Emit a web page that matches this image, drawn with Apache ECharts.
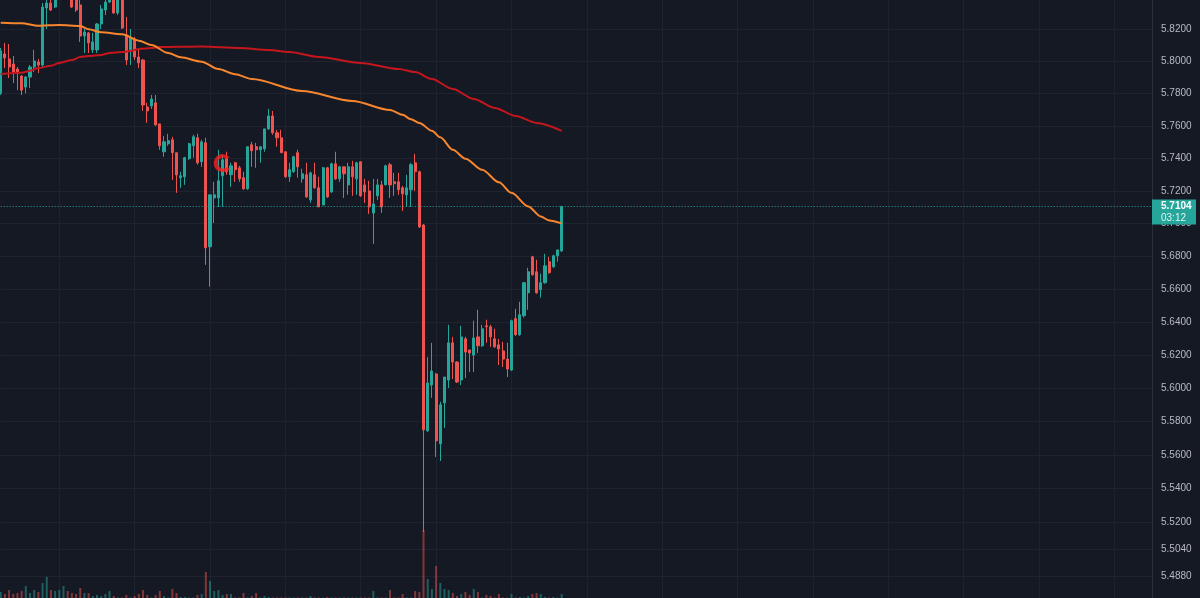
<!DOCTYPE html>
<html lang="en">
<head>
<meta charset="utf-8">
<title>Price chart</title>
<script src="https://cdn.jsdelivr.net/npm/echarts@6/dist/echarts.min.js"></script>
<style>
  html, body { margin: 0; padding: 0; background: #151924; }
  #chart { width: 1200px; height: 598px; }
</style>
</head>
<body>
<div id="chart"></div>
<script>
// candles: [open, close, low, high]
const candles = [
  [5.7802,5.8065,5.7791,5.8083],[5.8046,5.8021,5.7958,5.8115],[5.8015,5.7965,5.7896,5.8108],[5.7983,5.7933,5.7865,5.8033],
  [5.7952,5.7927,5.7821,5.7965],[5.7908,5.7821,5.7791,5.7915],[5.7840,5.7902,5.7802,5.7908],[5.7902,5.7965,5.7834,5.7977],
  [5.7965,5.8002,5.7933,5.8071],[5.7996,5.7977,5.7927,5.8015],[5.7977,5.8339,5.7965,5.8364],[5.8333,5.8364,5.8202,5.8385],
  [5.8364,5.8320,5.8314,5.8402],[5.8339,5.8395,5.8333,5.8414],[5.8395,5.8440,5.8390,5.8458],[5.8440,5.8465,5.8425,5.8476],
  [5.8465,5.8445,5.8420,5.8480],[5.8445,5.8339,5.8333,5.8458],[5.8389,5.8320,5.8308,5.8395],[5.8352,5.8158,5.8121,5.8383],
  [5.8158,5.8183,5.8052,5.8202],[5.8177,5.8115,5.8052,5.8183],[5.8071,5.8121,5.8052,5.8177],[5.8071,5.8233,5.8052,5.8239],
  [5.8233,5.8327,5.8202,5.8352],[5.8320,5.8370,5.8289,5.8383],[5.8370,5.8408,5.8364,5.8420],[5.8395,5.8302,5.8296,5.8408],
  [5.8302,5.8383,5.8289,5.8402],[5.8389,5.8208,5.8202,5.8402],[5.8164,5.8008,5.7977,5.8277],[5.8071,5.8146,5.7977,5.8202],
  [5.8139,5.8027,5.8008,5.8152],[5.8027,5.7990,5.7958,5.8083],[5.8008,5.7729,5.7692,5.8015],[5.7717,5.7692,5.7618,5.7742],
  [5.7723,5.7766,5.7705,5.7791],[5.7742,5.7606,5.7600,5.7791],[5.7612,5.7477,5.7452,5.7612],[5.7440,5.7501,5.7409,5.7538],
  [5.7489,5.7508,5.7477,5.7551],[5.7514,5.7434,5.7267,5.7532],[5.7434,5.7298,5.7187,5.7434],[5.7280,5.7292,5.7218,5.7317],
  [5.7286,5.7403,5.7236,5.7409],[5.7397,5.7489,5.7390,5.7495],[5.7477,5.7532,5.7403,5.7545],[5.7526,5.7372,5.7360,5.7551],
  [5.7378,5.7501,5.7347,5.7514],[5.7495,5.6851,5.6747,5.7526],[5.6857,5.7175,5.6614,5.7175],[5.7156,5.7175,5.7002,5.7255],
  [5.7156,5.7261,5.7101,5.7452],[5.7292,5.7390,5.7101,5.7421],[5.7397,5.7317,5.7298,5.7440],[5.7298,5.7353,5.7224,5.7372],
  [5.7372,5.7329,5.7255,5.7378],[5.7341,5.7273,5.7255,5.7353],[5.7280,5.7212,5.7206,5.7317],[5.7212,5.7471,5.7206,5.7471],
  [5.7483,5.7446,5.7347,5.7501],[5.7471,5.7452,5.7341,5.7495],[5.7452,5.7471,5.7372,5.7471],[5.7458,5.7581,5.7440,5.7581],
  [5.7581,5.7661,5.7575,5.7705],[5.7661,5.7557,5.7545,5.7692],[5.7557,5.7526,5.7471,5.7575],[5.7526,5.7434,5.7434,5.7575],
  [5.7440,5.7286,5.7280,5.7440],[5.7286,5.7329,5.7255,5.7372],[5.7317,5.7409,5.7310,5.7415],[5.7434,5.7347,5.7280,5.7452],
  [5.7273,5.7304,5.7249,5.7335],[5.7298,5.7162,5.7156,5.7372],[5.7144,5.7310,5.7126,5.7317],[5.7298,5.7218,5.7212,5.7372],
  [5.7218,5.7101,5.7101,5.7286],[5.7113,5.7341,5.7113,5.7347],[5.7341,5.7162,5.7156,5.7347],[5.7193,5.7366,5.7187,5.7372],
  [5.7366,5.7273,5.7267,5.7440],[5.7273,5.7347,5.7255,5.7353],[5.7347,5.7304,5.7156,5.7347],[5.7236,5.7347,5.7175,5.7372],
  [5.7347,5.7286,5.7169,5.7384],[5.7273,5.7372,5.7175,5.7378],[5.7378,5.7169,5.7162,5.7378],[5.7236,5.7193,5.7126,5.7273],
  [5.7199,5.7101,5.7058,5.7261],[5.7064,5.7119,5.6875,5.7273],[5.7169,5.7236,5.7144,5.7273],[5.7236,5.7101,5.7064,5.7261],
  [5.7236,5.7353,5.7236,5.7360],[5.7360,5.7236,5.7156,5.7372],[5.7255,5.7243,5.7169,5.7310],[5.7255,5.7206,5.7175,5.7310],
  [5.7218,5.7181,5.7076,5.7230],[5.7175,5.7218,5.7101,5.7298],[5.7206,5.7360,5.7101,5.7372],[5.7372,5.7317,5.7199,5.7427],
  [5.7317,5.6978,5.6972,5.7323],[5.6990,5.5751,5.5143,5.6996],[5.5745,5.6032,5.5739,5.6188],[5.6020,5.6104,5.5943,5.6274],
  [5.6086,5.5685,5.5589,5.6092],[5.5667,5.5901,5.5565,5.5919],[5.5913,5.6068,5.5763,5.6068],[5.6050,5.6274,5.6002,5.6383],
  [5.6274,5.6158,5.6056,5.6310],[5.6158,5.6038,5.6032,5.6164],[5.6050,5.6310,5.6020,5.6377],[5.6298,5.6219,5.6062,5.6310],
  [5.6231,5.6213,5.6098,5.6231],[5.6200,5.6304,5.6098,5.6408],[5.6310,5.6256,5.6213,5.6474],[5.6256,5.6359,5.6250,5.6383],
  [5.6377,5.6371,5.6274,5.6414],[5.6371,5.6310,5.6250,5.6383],[5.6298,5.6250,5.6244,5.6359],[5.6262,5.6237,5.6140,5.6298],
  [5.6225,5.6176,5.6128,5.6280],[5.6176,5.6116,5.6068,5.6274],[5.6110,5.6408,5.6104,5.6414],[5.6420,5.6323,5.6316,5.6480],
  [5.6323,5.6444,5.6316,5.6523],[5.6438,5.6638,5.6426,5.6644],[5.6577,5.6705,5.6474,5.6729],[5.6796,5.6687,5.6681,5.6802],
  [5.6705,5.6577,5.6571,5.6778],[5.6596,5.6638,5.6547,5.6693],[5.6638,5.6741,5.6632,5.6814],[5.6766,5.6699,5.6693,5.6796],
  [5.6735,5.6802,5.6729,5.6808],[5.6802,5.6838,5.6766,5.6838],[5.6832,5.7104,5.6826,5.7104]
];

const volumes = [
  6,4,8,4,5,7,12,5,8,6,
  15,21,8,7,8,12,7,5,4,10,
  5,5,2,3,2,4,7,2,0.5,0.5,
  3,0.5,2,4,8,3,0.5,3,7,2,
  0.5,9,5,1,1,0.5,0.5,3,4,26,
  17,7,8,3,4,4,0.5,0.5,5,0.5,
  2,5,0.5,2,1,0.5,0.5,0.5,0.5,0.5,
  0.5,0.5,0.5,0.5,2,0.5,0.5,0.5,1,0.5,
  0.5,0.5,0.5,0.5,0.5,0.5,0.5,0.5,0.5,7,
  0.5,0.5,0.5,8,0.5,0.5,4,0.5,0.5,7,
  6,68,19,9,32,15,9,8,5,2,
  4,6,3,9,6,0.5,3,2,0.5,4,
  0.5,0.5,4,0.5,1,0.5,2,4,5,4,
  1,0.5,1,0.5,4
];

// moving averages, [candle index, price]
const maFast = [[0,5.8241],[5,5.8237],[9,5.8222],[14,5.8227],[19,5.8221],[21,5.8200],[24,5.8181],[29,5.8169],
  [33,5.8129],[36,5.8102],[40,5.8052],[43,5.8025],[48,5.7998],[52,5.7952],[56,5.7920],[60,5.7890],[72,5.7815],
  [84,5.7754],[93,5.7698],[96,5.7668],[98,5.7640],[100,5.7618],[103,5.7569],[105,5.7529],[108,5.7452],[111,5.7397],
  [115,5.7329],[119,5.7252],[122,5.7187],[126,5.7104],[129,5.7042],[131,5.7018],[134,5.7000]];
const maSlow = [[0,5.7921],[5,5.7929],[7,5.7942],[9,5.7958],[12,5.7973],[14,5.7990],[17,5.8008],[19,5.8027],
  [21,5.8033],[24,5.8040],[26,5.8052],[29,5.8058],[31,5.8065],[33,5.8077],[36,5.8083],[38,5.8090],[48,5.8093],
  [57,5.8083],[64,5.8071],[69,5.8058],[76,5.8027],[86,5.7990],[95,5.7952],[99,5.7933],[103,5.7890],[108,5.7828],
  [113,5.7766],[118,5.7711],[123,5.7661],[128,5.7618],[134,5.7569]];

const yTicks = [5.84,5.82,5.80,5.78,5.76,5.74,5.72,5.70,5.68,5.66,5.64,5.62,5.60,5.58,5.56,5.54,5.52,5.504,5.488];
const priceMin = 5.4754, priceMax = 5.8383;
const lastPrice = 5.7104;
const countdown = '03:12';
const marker = [53, 5.7370];
const slots = 276;

const up = '#26a69a', down = '#ef5350';
const upVol = 'rgba(38,166,154,0.5)', downVol = 'rgba(239,83,80,0.5)';
const gridColor = '#1f2330';
const ln = Math.log;
// open ring, gap on the right
const ringPath = 'path://M17.66 3.57A10 10 0 1 0 17.66 16.43L14.6 14.5A6 6 0 1 1 14.6 5.5Z';

let chart = echarts.init(document.getElementById('chart'));

let cats = [];
for (let i = 0; i < slots; i++) cats.push(String(i));

let option = {
  backgroundColor: '#151924',
  animation: false,
  grid: [
    { left: 0.7, right: 48, top: 0, bottom: 0 },
    { left: 0.7, right: 48, top: 530, bottom: 0 }
  ],
  xAxis: [
    {
      type: 'category', data: cats, boundaryGap: false, gridIndex: 0,
      axisLine: { show: false }, axisTick: { show: false }, axisLabel: { show: false },
      splitLine: {
        show: true,
        interval: function (i) { return i >= 14 && (i - 14) % 18 === 0; },
        lineStyle: { color: gridColor, width: 1 }
      }
    },
    { type: 'category', data: cats, boundaryGap: false, gridIndex: 1, show: false }
  ],
  yAxis: [
    {
      type: 'value', position: 'right', scale: true,
      min: ln(priceMin), max: ln(priceMax),
      axisLine: { show: true, lineStyle: { color: '#2a2e39' } },
      axisTick: { show: false, customValues: yTicks.map(ln) },
      axisLabel: {
        customValues: yTicks.map(ln),
        formatter: function (v) { return Math.exp(v).toFixed(4); },
        color: '#b7bac2', fontSize: 10, margin: 9, fontFamily: 'Liberation Sans'
      },
      splitLine: { show: true, lineStyle: { color: gridColor, width: 1 } }
    },
    { type: 'value', gridIndex: 1, min: 0, max: 68, show: false }
  ],
  series: [
    {
      type: 'bar', xAxisIndex: 1, yAxisIndex: 1, barWidth: 2, z: 1,
      data: volumes.map(function (v, i) {
        let c = candles[i];
        return { value: v, itemStyle: { color: c[1] >= c[0] ? upVol : downVol } };
      })
    },
    {
      type: 'candlestick', z: 3, barWidth: 2.6,
      data: candles.map(function (c) { return c.map(ln); }),
      itemStyle: { color: up, color0: down, borderColor: up, borderColor0: down, borderWidth: 1 },
      markLine: {
        silent: true, symbol: ['none', 'none'], animation: false, precision: 10,
        lineStyle: { color: up, type: [1, 2], width: 1 },
        label: { show: false },
        data: [{ yAxis: ln(lastPrice) }]
      }
    },
    {
      type: 'line', z: 4, smooth: 0.3, smoothMonotone: 'x', showSymbol: false,
      lineStyle: { color: '#c4161c', width: 2 },
      data: maSlow.map(function (p) { return [p[0], ln(p[1])]; })
    },
    {
      type: 'line', z: 5, smooth: 0.3, smoothMonotone: 'x', showSymbol: false,
      lineStyle: { color: '#f7862e', width: 2 },
      data: maFast.map(function (p) { return [p[0], ln(p[1])]; })
    },
    {
      type: 'scatter', z: 6, symbol: ringPath, symbolSize: 18, symbolKeepAspect: true, symbolOffset: [-1, 0],
      itemStyle: { color: '#ff1e1e' },
      data: [[marker[0], ln(marker[1])]]
    }
  ]
};

chart.setOption(option);

// last price tag on the price scale
let py = chart.convertToPixel({ yAxisIndex: 0 }, ln(lastPrice));
let px = chart.convertToPixel({ xAxisIndex: 0 }, slots - 1);
chart.setOption({
  graphic: [
    { type: 'rect', z: 100, shape: { x: px, y: py - 7, width: 44, height: 25 }, style: { fill: up } },
    { type: 'text', z: 101, x: px + 9, y: py,
      style: { text: lastPrice.toFixed(4), fill: '#ffffff', fontSize: 10, fontWeight: 'bold', fontFamily: 'Liberation Sans', verticalAlign: 'middle' } },
    { type: 'text', z: 101, x: px + 9, y: py + 12,
      style: { text: countdown, fill: '#e4f3f1', fontSize: 10, fontFamily: 'Liberation Sans', verticalAlign: 'middle' } }
  ]
});
</script>
</body>
</html>
